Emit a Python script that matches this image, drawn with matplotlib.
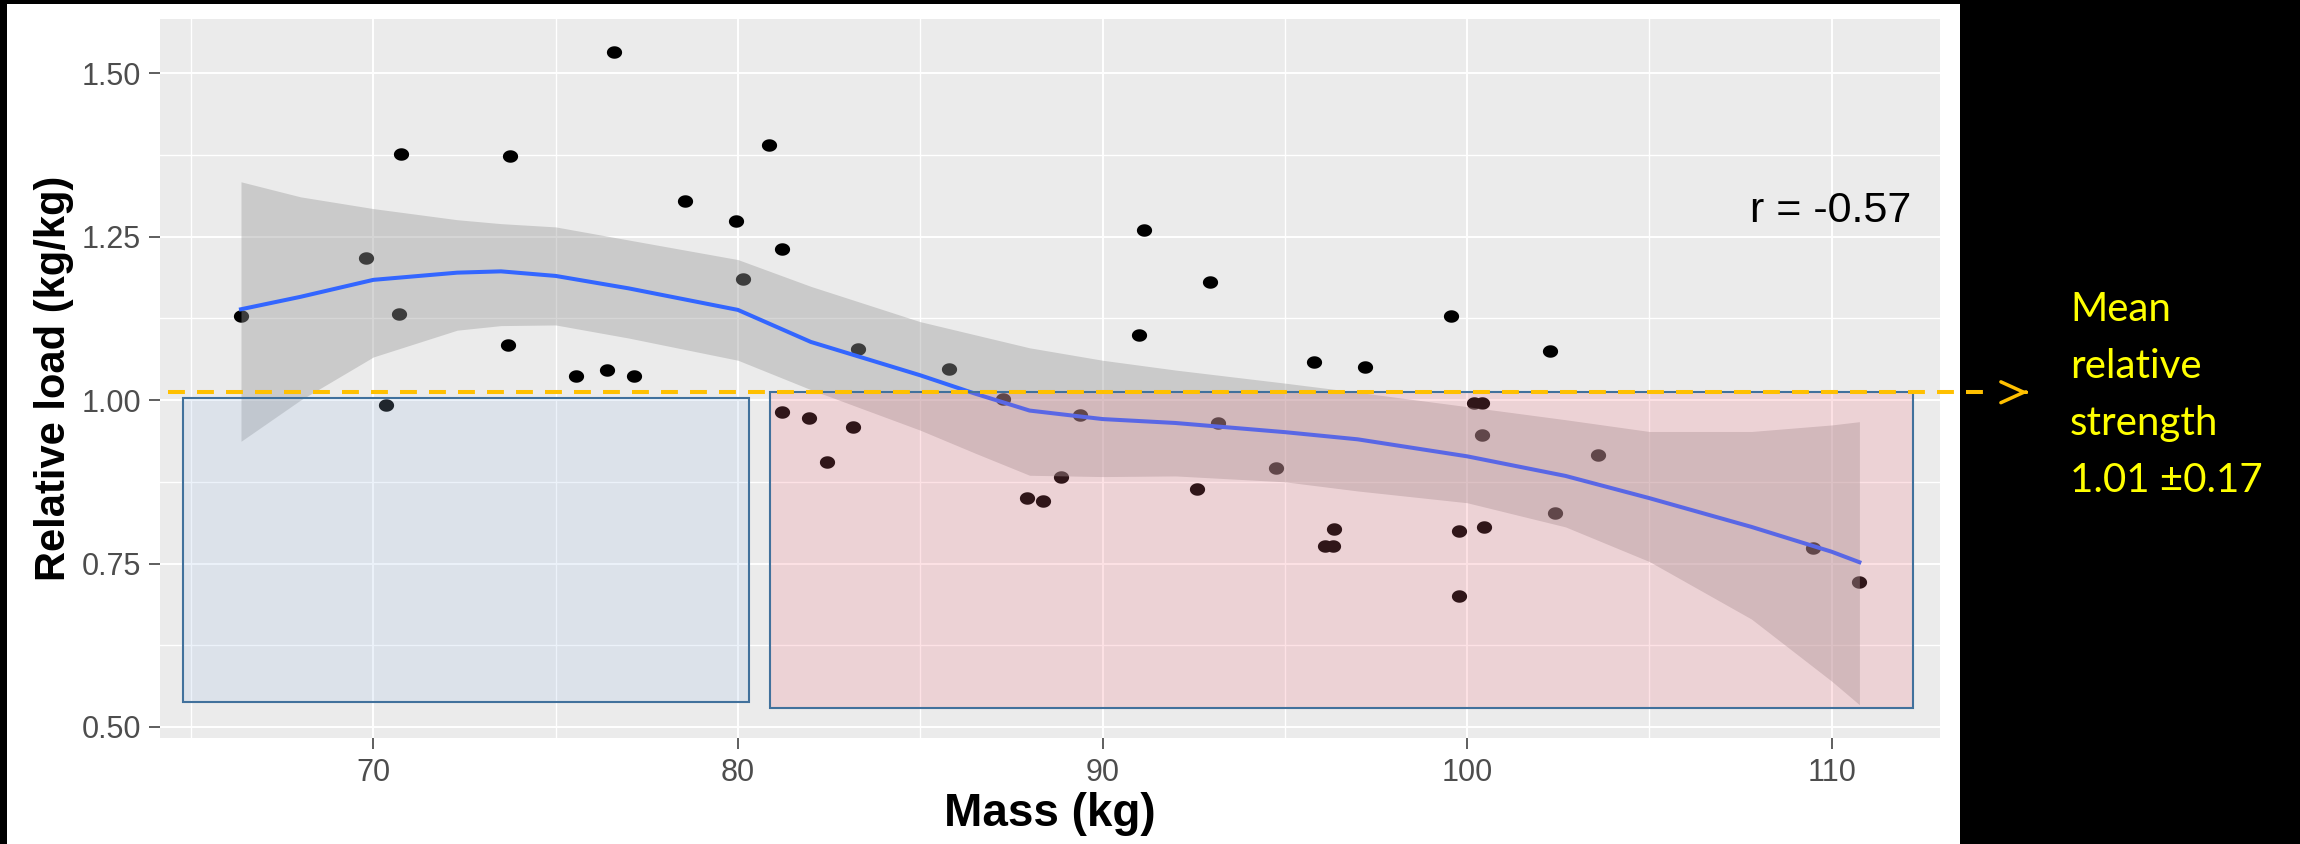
import numpy as np
import matplotlib.pyplot as plt
import matplotlib.transforms as mtransforms
from matplotlib.patches import Rectangle
from matplotlib.lines import Line2D
from matplotlib.path import Path

# data
mass = [66.37, 69.79, 70.35, 70.70, 70.76, 73.69, 73.75, 75.56, 76.42, 76.60,
        77.15, 78.56, 79.95, 80.15, 80.85, 81.20, 81.20, 81.96, 82.45, 83.15,
        83.29, 85.78, 87.26, 87.94, 88.36, 88.85, 89.38, 91.00, 91.15, 92.60,
        92.95, 93.16, 94.76, 95.80, 96.10, 96.33, 96.35, 97.20, 99.57, 99.77,
        99.77, 100.19, 100.41, 100.40, 100.46, 102.27, 102.42, 103.60, 109.50, 110.76]
rel_load = [1.129, 1.217, 0.993, 1.132, 1.377, 1.085, 1.374, 1.037, 1.046, 1.532,
            1.037, 1.304, 1.274, 1.185, 1.390, 1.231, 0.982, 0.972, 0.906, 0.959,
            1.078, 1.048, 1.001, 0.850, 0.846, 0.883, 0.977, 1.099, 1.260, 0.864,
            1.181, 0.965, 0.896, 1.058, 0.777, 0.777, 0.803, 1.051, 1.128, 0.800,
            0.701, 0.995, 0.995, 0.946, 0.806, 1.075, 0.827, 0.916, 0.773, 0.721]

# loess fit and its confidence band
smooth_mass = [66.37, 68.0, 70.0, 72.3, 73.5, 75.0, 77.0, 80.0, 82.0, 85.0, 86.5,
               88.0, 90.0, 92.0, 95.0, 97.0, 100.0, 102.7, 105.0, 107.8, 110.0, 110.76]
smooth_fit = [1.139, 1.158, 1.184, 1.195, 1.197, 1.190, 1.171, 1.138, 1.089, 1.038, 1.010,
              0.984, 0.971, 0.965, 0.951, 0.940, 0.914, 0.884, 0.850, 0.806, 0.768, 0.752]
smooth_upper = [1.334, 1.311, 1.293, 1.276, 1.270, 1.265, 1.245, 1.215, 1.174, 1.120, 1.100,
                1.080, 1.061, 1.046, 1.026, 1.012, 0.990, 0.970, 0.952, 0.952, 0.962, 0.967]
smooth_lower = [0.937, 1.000, 1.066, 1.107, 1.114, 1.115, 1.095, 1.061, 1.016, 0.954, 0.919,
                0.885, 0.883, 0.884, 0.875, 0.861, 0.843, 0.806, 0.753, 0.665, 0.570, 0.534]

mean_strength = 1.012
r_label = "r = -0.57"
note_lines = ["Mean", "relative", "strength", "1.01 ±0.17"]

# highlight boxes (x0, x1, y0, y1) in data units
light_box = (64.77, 80.31, 0.5376, 1.0028)
heavy_box = (80.88, 112.22, 0.5285, 1.012)

W, H = 2300, 844
plt.rcParams['font.family'] = ['Liberation Sans', 'DejaVu Sans']

fig = plt.figure(figsize=(W / 100, H / 100), dpi=100, facecolor='black')
fig.add_artist(Rectangle((7 / W, 0), 1953 / W, 840 / H, transform=fig.transFigure,
                         facecolor='white', edgecolor='none', zorder=-10))

ax = fig.add_axes([159.7 / W, 1 - 737.5 / H, 1779.9 / W, 718.7 / H])
ax.set_facecolor('#EBEBEB')
for s in ax.spines.values():
    s.set_visible(False)

# points, slightly wide like the stretched original
t = np.linspace(0, 2 * np.pi, 60)
dot = Path(np.column_stack([1.22 * np.cos(t), np.sin(t)]), closed=True)
ax.scatter(mass, rel_load, s=120, marker=dot, color='black', linewidths=0, zorder=2)

ax.fill_between(smooth_mass, smooth_lower, smooth_upper, color='#999999', alpha=0.4,
                lw=0, zorder=3)
ax.plot(smooth_mass, smooth_fit, color='#3366FF', lw=2.9, zorder=4)

for (x0, x1, y0, y1), fc in [(light_box, (0.63, 0.75, 0.90, 0.2)),
                             (heavy_box, (0.96, 0.44, 0.50, 0.2))]:
    ax.add_patch(Rectangle((x0, y0), x1 - x0, y1 - y0, facecolor=fc,
                           edgecolor='#41719C', lw=1.5, zorder=5))

ax.text(112.17, 1.2728, r_label, ha='right', va='baseline', fontsize=31, color='black',
        zorder=7)

ax.set_xlim(64.14, 112.96)
ax.set_ylim(0.4838, 1.5834)
ax.set_xticks([70, 80, 90, 100, 110])
ax.set_xticks([65, 75, 85, 95, 105], minor=True)
ax.set_yticks([0.5, 0.75, 1.0, 1.25, 1.5])
ax.set_yticklabels(['0.50', '0.75', '1.00', '1.25', '1.50'])
ax.set_yticks([0.625, 0.875, 1.125, 1.375], minor=True)
ax.grid(which='major', color='white', lw=1.4)
ax.grid(which='minor', color='white', lw=1.0)
ax.set_axisbelow(True)
ax.tick_params(which='major', length=8, width=1.1, color='#333333', labelsize=22,
               labelcolor='#4D4D4D')
ax.tick_params(which='minor', length=0)
ax.tick_params(axis='y', pad=5.5)
ax.tick_params(axis='x', pad=7)

ax.set_xlabel('Mass (kg)', fontsize=33, fontweight='bold', va='baseline')
ax.xaxis.set_label_coords(0.5, -0.1231)
ax.set_ylabel('Relative load (kg/kg)', fontsize=30, fontweight='bold', va='baseline')
ax.yaxis.set_label_coords(-0.053, 0.5)

# mean line running out of the plot to the note
blend = mtransforms.blended_transform_factory(fig.transFigure, ax.transData)
fig.add_artist(Line2D([168 / W, 1992 / W], [mean_strength, mean_strength], transform=blend,
                      color='#FFC000', lw=2.9, linestyle=(0, (4.2, 3.0)), zorder=6))
ax.annotate('', xy=(2028 / W, mean_strength), xytext=(2026 / W, mean_strength),
            xycoords=blend, textcoords=blend, annotation_clip=False,
            arrowprops=dict(arrowstyle='->,head_length=0.55,head_width=0.25',
                            color='#FFC000', lw=2.5, shrinkA=0, shrinkB=0,
                            mutation_scale=30))

for i, line in enumerate(note_lines):
    fig.text(2070 / W, 1 - (321.4 + 57 * i) / H, line, color='#FFFF00', fontsize=29,
             family=['Lato', 'DejaVu Sans'], va='baseline', ha='left')

fig.savefig('out.png', dpi=100, facecolor='black')
